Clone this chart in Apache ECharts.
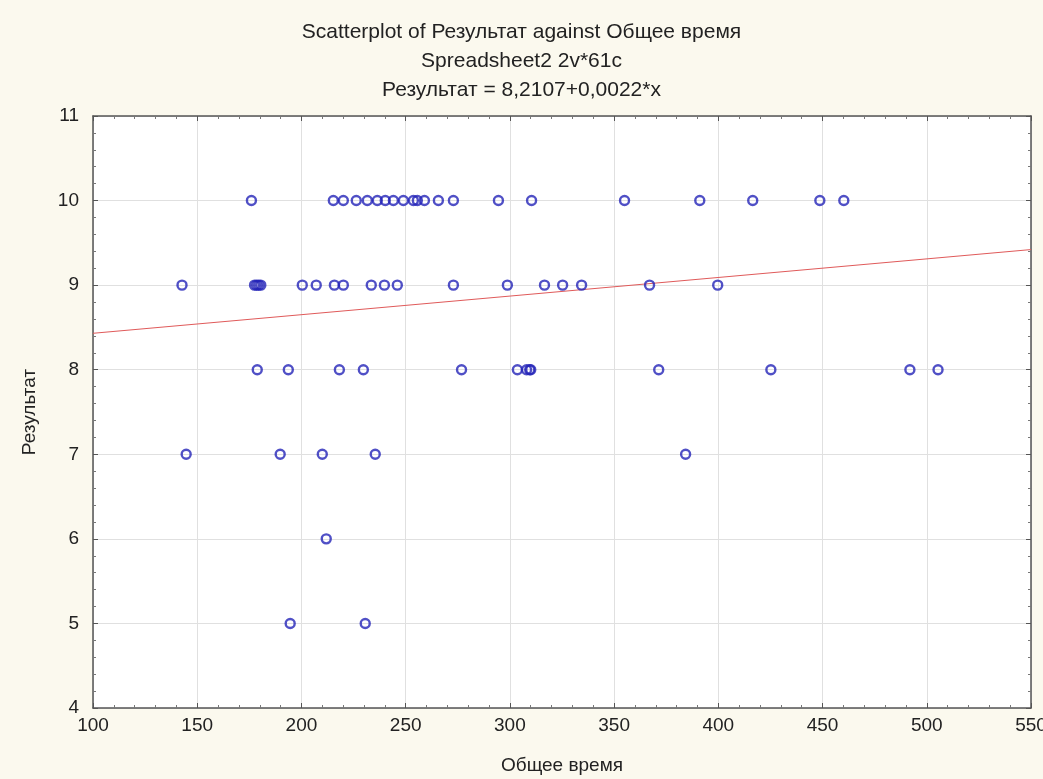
<!DOCTYPE html>
<html>
<head>
<meta charset="utf-8">
<script src="https://cdn.jsdelivr.net/npm/echarts@6/dist/echarts.min.js"></script>
<style>
  html, body { margin: 0; padding: 0; background: #fbf9ee; }
  #chart { width: 1043px; height: 779px; }
</style>
</head>
<body>
<div id="chart"></div>
<script>
// Общее время (x) и Результат (y), по одному наблюдению на позицию
const totalTime = [
  176, 215.3, 220.1, 226.3, 231.6, 236.4, 240.2, 244.1, 248.9, 253.7, 255.6,
  259, 265.7, 272.9, 294.5, 310.4, 355, 391.1, 416.5, 448.7, 460.2,
  142.7, 177.5, 178.5, 179.5, 180.5, 200.4, 207.1, 215.8, 220.1, 233.5,
  239.8, 246, 272.9, 298.8, 316.6, 325.3, 334.4, 367, 399.7,
  178.8, 193.7, 218.2, 229.7, 276.8, 303.6, 308, 309.5, 310, 371.4, 425.2,
  491.9, 505.4,
  144.7, 189.8, 210, 235.4, 384.3,
  211.9,
  194.6, 230.6
];
const result = [
  10, 10, 10, 10, 10, 10, 10, 10, 10, 10, 10,
  10, 10, 10, 10, 10, 10, 10, 10, 10, 10,
  9, 9, 9, 9, 9, 9, 9, 9, 9, 9,
  9, 9, 9, 9, 9, 9, 9, 9, 9,
  8, 8, 8, 8, 8, 8, 8, 8, 8, 8, 8,
  8, 8,
  7, 7, 7, 7, 7,
  6,
  5, 5
];

// Результат = 8,2107+0,0022*x
const intercept = 8.2107;
const slope = 0.0022;
const xLimits = [100, 550];
const yLimits = [4, 11];

const titleLines = [
  'Scatterplot of Результат against Общее время',
  'Spreadsheet2 2v*61c',
  'Результат = 8,2107+0,0022*x'
];

const points = totalTime.map((x, i) => [x, result[i]]);
const fitLine = xLimits.map((x) => [x, intercept + slope * x]);

const font = 'Liberation Sans, Arial, sans-serif';
const axisColor = '#555555';

const frameAxis = (opts) => Object.assign({
  type: 'value',
  axisLine: { show: true, onZero: false, lineStyle: { color: axisColor, width: 1.5 } },
  axisTick: { show: true, inside: true, length: 5, lineStyle: { color: axisColor } },
  minorTick: { show: true, splitNumber: 5, length: 3, lineStyle: { color: '#777' } },
  splitLine: { show: false }
}, opts);

const myChart = echarts.init(document.getElementById('chart'));

myChart.setOption({
  backgroundColor: '#fbf9ee',
  animation: false,
  textStyle: { fontFamily: font },
  title: titleLines.map((t, i) => ({
    text: t,
    left: 'center',
    top: 17 + i * 29,
    textStyle: { fontFamily: font, fontSize: 21, fontWeight: 'normal', color: '#222' }
  })),
  grid: {
    left: 93,
    right: 12,
    top: 116,
    bottom: 71,
    outerBoundsMode: 'none',
    containLabel: false,
    show: true,
    backgroundColor: '#ffffff',
    borderWidth: 0
  },
  xAxis: [
    frameAxis({
      min: xLimits[0],
      max: xLimits[1],
      interval: 50,
      position: 'bottom',
      name: 'Общее время',
      nameLocation: 'middle',
      nameGap: 48,
      nameTextStyle: { fontFamily: font, fontSize: 19, color: '#222' },
      axisLabel: { margin: 8, fontSize: 19, color: '#222', fontFamily: font },
      splitLine: { show: true, lineStyle: { color: '#e0e0e0', width: 1 } }
    }),
    frameAxis({
      min: xLimits[0],
      max: xLimits[1],
      interval: 50,
      position: 'top',
      axisLabel: { show: false }
    })
  ],
  yAxis: [
    frameAxis({
      min: yLimits[0],
      max: yLimits[1],
      interval: 1,
      position: 'left',
      name: 'Результат',
      nameLocation: 'middle',
      nameGap: 54,
      nameTextStyle: { fontFamily: font, fontSize: 19, color: '#222' },
      axisLabel: { margin: 14, fontSize: 19, color: '#222', fontFamily: font },
      splitLine: { show: true, lineStyle: { color: '#e0e0e0', width: 1 } }
    }),
    frameAxis({
      min: yLimits[0],
      max: yLimits[1],
      interval: 1,
      position: 'right',
      axisLabel: { show: false }
    })
  ],
  series: [
    {
      name: 'Регрессия',
      type: 'line',
      data: fitLine,
      symbol: 'none',
      lineStyle: { color: '#e05a5a', width: 1 },
      z: 2
    },
    {
      name: 'Результат',
      type: 'scatter',
      data: points,
      symbol: 'circle',
      symbolSize: 9,
      itemStyle: {
        color: 'rgba(255,255,255,0)',
        borderColor: '#2424b8',
        borderWidth: 2.4
      },
      z: 3
    }
  ]
});
</script>
</body>
</html>
